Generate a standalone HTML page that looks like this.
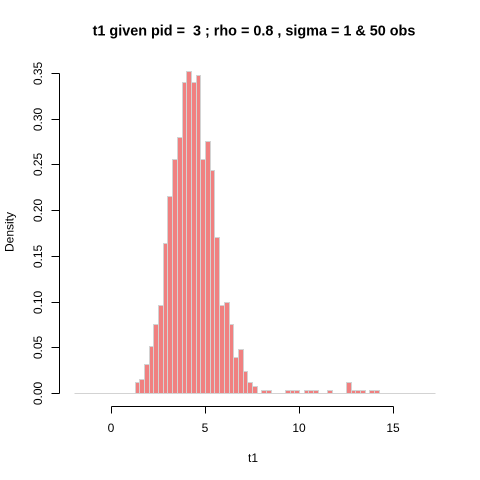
<!DOCTYPE html>
<html>
<head>
<meta charset="utf-8">
<title>t1 histogram</title>
<style>
html,body{margin:0;padding:0;background:#fff;}
svg{display:block;}
text{font-family:"Liberation Sans",Arial,sans-serif;fill:#000;}
</style>
</head>
<body>
<svg id="chart" xmlns="http://www.w3.org/2000/svg" width="480" height="480" viewBox="0 0 480 480">
  <rect x="0" y="0" width="480" height="480" fill="#fff"/>
  <text x="254" y="35.5" text-anchor="middle" font-size="14.4" font-weight="bold" xml:space="preserve">t1 given pid =  3 ; rho = 0.8 , sigma = 1 &amp; 50 obs</text>
  <text x="253" y="462" text-anchor="middle" font-size="12">t1</text>
  <text transform="translate(13.5,232) rotate(-90)" text-anchor="middle" font-size="12">Density</text>
  <g id="bars"></g>
  <g id="x-axis"></g>
  <g id="y-axis"></g>
</svg>
<script>
var binStart = -2;
var binWidth = 0.25;
var densities = [
  0,0,0,0,0,0,0,0,0,0,0,0,0,
  0.0117,0.0153,0.0317,0.0514,0.0755,0.0962,0.164,0.215,0.256,0.28,
  0.34,0.352,0.34,0.348,0.256,0.2756,0.244,0.171,0.096,0.099,
  0.0755,0.039,0.048,0.024,0.012,0.0075,0,0.003,0.003,0,0,0,
  0.003,0.003,0.003,0,0.003,0.003,0.003,0,0,0.003,0,0,0,
  0.012,0.003,0.003,0.003,0,0.003,0.003,
  0,0,0,0,0,0,0,0,0,0,0,0
];
var xTicks = [0, 5, 10, 15];
var xTickLabels = ["0", "5", "10", "15"];
var yTicks = [0, 0.05, 0.1, 0.15, 0.2, 0.25, 0.3, 0.35];
var yTickLabels = ["0.00", "0.05", "0.10", "0.15", "0.20", "0.25", "0.30", "0.35"];

var NS = "http://www.w3.org/2000/svg";
function xScale(t) { return 111.6 + 18.79 * t; }
function yScale(d) { return 393.5 - 914.3 * d; }
function snap(v) { return Math.round(v - 0.5) + 0.5; }
function make(tag, attrs, parent) {
  var el = document.createElementNS(NS, tag);
  for (var k in attrs) { el.setAttribute(k, attrs[k]); }
  parent.appendChild(el);
  return el;
}

var barsGroup = document.getElementById("bars");
var baseline = make("line", {
  x1: snap(xScale(binStart)),
  x2: snap(xScale(binStart + densities.length * binWidth)),
  y1: 393.5, y2: 393.5,
  stroke: "#D3D3D3", "stroke-width": 1, "shape-rendering": "crispEdges"
}, barsGroup);


densities.forEach(function (d, i) {
  if (d <= 0) { return; }
  var x0 = snap(xScale(binStart + i * binWidth));
  var x1 = snap(xScale(binStart + (i + 1) * binWidth));
  var y0 = snap(yScale(d));
  var bar = make("rect", {
    x: x0, y: y0, width: x1 - x0, height: 393.5 - y0,
    fill: "#F08080", stroke: "#D3D3D3", "stroke-width": 1,
    "shape-rendering": "crispEdges"
  }, barsGroup);
  
  
});

var xAxis = document.getElementById("x-axis");
var xLine = make("line", {
  x1: snap(xScale(xTicks[0])), x2: snap(xScale(xTicks[xTicks.length - 1])),
  y1: 406.5, y2: 406.5, stroke: "#000", "stroke-width": 1, "shape-rendering": "crispEdges"
}, xAxis);


xTicks.forEach(function (t, i) {
  var px = snap(xScale(t));
  var tick = make("line", {
    x1: px, x2: px, y1: 406.5, y2: 413.5,
    stroke: "#000", "stroke-width": 1, "shape-rendering": "crispEdges"
  }, xAxis);
  
  
  var label = make("text", {
    x: px - 0.5, y: 432, "text-anchor": "middle", "font-size": 12
  }, xAxis);
  label.textContent = xTickLabels[i];
  
  
});

var yAxis = document.getElementById("y-axis");
var yLine = make("line", {
  x1: 59.5, x2: 59.5,
  y1: snap(yScale(yTicks[yTicks.length - 1])), y2: snap(yScale(yTicks[0])),
  stroke: "#000", "stroke-width": 1, "shape-rendering": "crispEdges"
}, yAxis);


yTicks.forEach(function (v, i) {
  var py = snap(yScale(v));
  var tick = make("line", {
    x1: 51.5, x2: 59.5, y1: py, y2: py,
    stroke: "#000", "stroke-width": 1, "shape-rendering": "crispEdges"
  }, yAxis);
  
  
  var label = make("text", {
    transform: "translate(42," + py + ") rotate(-90)",
    "text-anchor": "middle", "font-size": 12
  }, yAxis);
  label.textContent = yTickLabels[i];
  
  
});
</script>
</body>
</html>
